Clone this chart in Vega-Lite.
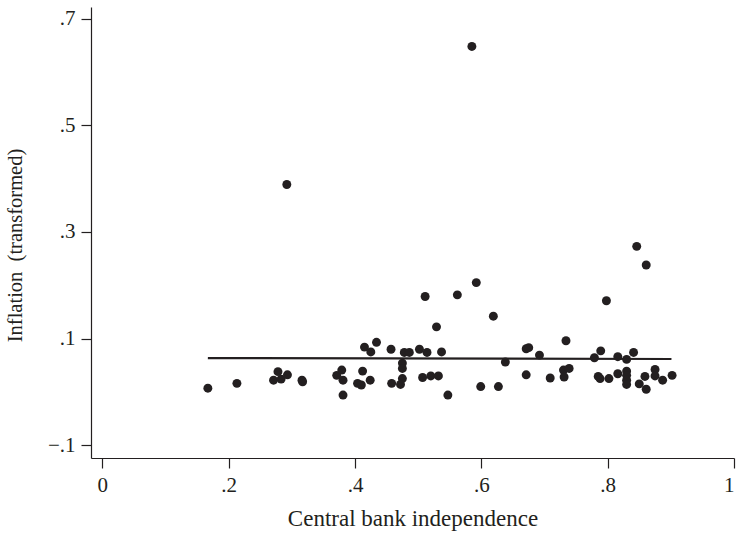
{
  "$schema": "https://vega.github.io/schema/vega-lite/v6.json",
  "width": 643,
  "height": 451,
  "autosize": {"type": "none"},
  "padding": {"left": 91, "top": 7, "right": 2, "bottom": 77},
  "background": "white",
  "config": {
    "view": {"stroke": null},
    "font": "Liberation Serif",
    "axis": {
      "grid": false,
      "domainColor": "#231f20",
      "domainWidth": 1.2,
      "tickColor": "#231f20",
      "tickWidth": 1.2,
      "tickSize": 10,
      "labelFont": "Liberation Serif",
      "labelFontSize": 21,
      "labelColor": "#231f20",
      "titleFont": "Liberation Serif",
      "titleFontWeight": "normal",
      "titleColor": "#231f20"
    }
  },
  "datasets": {
    "pts": [
      {"cbi": 0.292, "infl": 0.389}, {"cbi": 0.511, "infl": 0.179}, {"cbi": 0.529, "infl": 0.122},
      {"cbi": 0.415, "infl": 0.084}, {"cbi": 0.425, "infl": 0.075}, {"cbi": 0.434, "infl": 0.093},
      {"cbi": 0.457, "infl": 0.080}, {"cbi": 0.478, "infl": 0.074}, {"cbi": 0.486, "infl": 0.074},
      {"cbi": 0.502, "infl": 0.080}, {"cbi": 0.514, "infl": 0.074}, {"cbi": 0.537, "infl": 0.075},
      {"cbi": 0.167, "infl": 0.007}, {"cbi": 0.213, "infl": 0.016}, {"cbi": 0.278, "infl": 0.038},
      {"cbi": 0.271, "infl": 0.022}, {"cbi": 0.283, "infl": 0.024}, {"cbi": 0.293, "infl": 0.032},
      {"cbi": 0.316, "infl": 0.022}, {"cbi": 0.317, "infl": 0.019}, {"cbi": 0.371, "infl": 0.031},
      {"cbi": 0.379, "infl": 0.041}, {"cbi": 0.381, "infl": 0.022}, {"cbi": 0.381, "infl": -0.006},
      {"cbi": 0.412, "infl": 0.039}, {"cbi": 0.404, "infl": 0.016}, {"cbi": 0.410, "infl": 0.013},
      {"cbi": 0.424, "infl": 0.022}, {"cbi": 0.458, "infl": 0.016}, {"cbi": 0.475, "infl": 0.054},
      {"cbi": 0.475, "infl": 0.044}, {"cbi": 0.475, "infl": 0.025}, {"cbi": 0.472, "infl": 0.014},
      {"cbi": 0.507, "infl": 0.027}, {"cbi": 0.520, "infl": 0.030}, {"cbi": 0.532, "infl": 0.030},
      {"cbi": 0.547, "infl": -0.006}, {"cbi": 0.585, "infl": 0.648}, {"cbi": 0.846, "infl": 0.273},
      {"cbi": 0.861, "infl": 0.238}, {"cbi": 0.798, "infl": 0.171}, {"cbi": 0.592, "infl": 0.205},
      {"cbi": 0.562, "infl": 0.182}, {"cbi": 0.619, "infl": 0.142}, {"cbi": 0.638, "infl": 0.056},
      {"cbi": 0.671, "infl": 0.081}, {"cbi": 0.675, "infl": 0.083}, {"cbi": 0.692, "infl": 0.069},
      {"cbi": 0.734, "infl": 0.096}, {"cbi": 0.671, "infl": 0.032}, {"cbi": 0.709, "infl": 0.026},
      {"cbi": 0.599, "infl": 0.010}, {"cbi": 0.627, "infl": 0.010}, {"cbi": 0.730, "infl": 0.041},
      {"cbi": 0.739, "infl": 0.044}, {"cbi": 0.731, "infl": 0.028}, {"cbi": 0.779, "infl": 0.064},
      {"cbi": 0.789, "infl": 0.077}, {"cbi": 0.785, "infl": 0.029}, {"cbi": 0.788, "infl": 0.025},
      {"cbi": 0.802, "infl": 0.025}, {"cbi": 0.816, "infl": 0.066}, {"cbi": 0.816, "infl": 0.034},
      {"cbi": 0.830, "infl": 0.061}, {"cbi": 0.841, "infl": 0.074}, {"cbi": 0.830, "infl": 0.039},
      {"cbi": 0.830, "infl": 0.031}, {"cbi": 0.830, "infl": 0.022}, {"cbi": 0.830, "infl": 0.014},
      {"cbi": 0.850, "infl": 0.015}, {"cbi": 0.861, "infl": 0.005}, {"cbi": 0.859, "infl": 0.029},
      {"cbi": 0.875, "infl": 0.042}, {"cbi": 0.875, "infl": 0.030}, {"cbi": 0.887, "infl": 0.022},
      {"cbi": 0.902, "infl": 0.031}
    ],
    "fit": [
      {"cbi": 0.167, "infl": 0.0635},
      {"cbi": 0.901, "infl": 0.0617}
    ]
  },
  "layer": [
    {
      "data": {"name": "fit"},
      "mark": {"type": "line", "color": "#231f20", "strokeWidth": 2.2},
      "encoding": {
        "x": {
          "field": "cbi", "type": "quantitative",
          "scale": {"domain": [-0.018, 1.0], "nice": false, "zero": false},
          "axis": {
            "title": "Central bank independence",
            "titleFontSize": 23,
            "values": [0, 0.2, 0.4, 0.6, 0.8, 1],
            "labelExpr": "datum.value == 0 ? '0' : datum.value == 1 ? '1' : replace(format(datum.value, '.1f'), '0.', '.')",
            "labelPadding": 6,
            "titlePadding": 12
          }
        },
        "y": {
          "field": "infl", "type": "quantitative",
          "scale": {"domain": [-0.124, 0.722], "nice": false, "zero": false},
          "axis": {
            "title": "Inflation\u00a0 (transformed)",
            "titleFontSize": 20.5,
            "values": [-0.1, 0.1, 0.3, 0.5, 0.7],
            "labelExpr": "replace(replace(format(datum.value, '.1f'), '0.', '.'), '-', '–')",
            "labelPadding": 6,
            "titleX": -76,
            "titleY": 238,
            "titleBaseline": "middle",
            "titleAngle": -90
          }
        }
      }
    },
    {
      "data": {"name": "pts"},
      "mark": {"type": "circle", "color": "#231f20", "opacity": 1, "size": 80},
      "encoding": {
        "x": {"field": "cbi", "type": "quantitative"},
        "y": {"field": "infl", "type": "quantitative"}
      }
    }
  ]
}
